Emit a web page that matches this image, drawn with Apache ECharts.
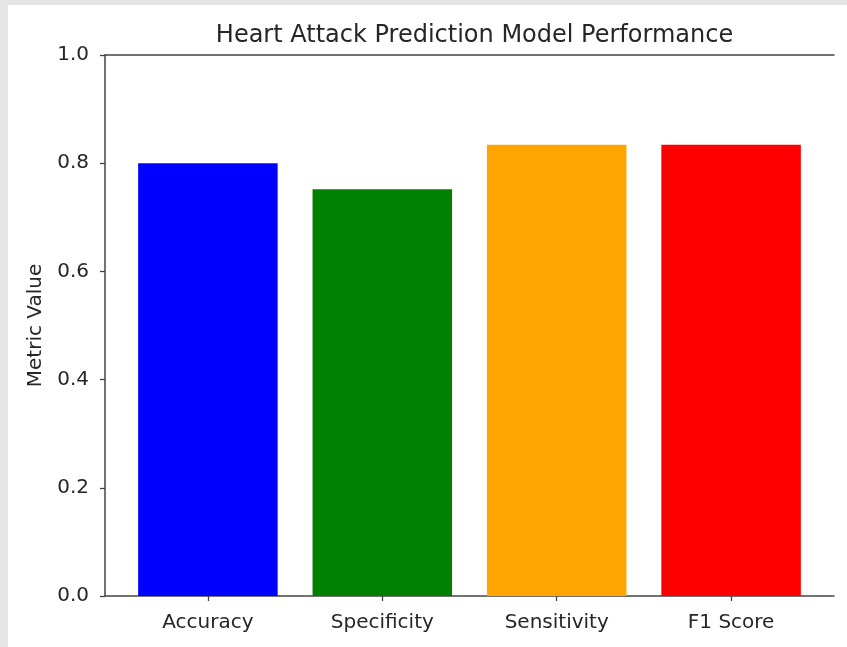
<!DOCTYPE html>
<html>
<head>
<meta charset="utf-8">
<script src="https://cdn.jsdelivr.net/npm/echarts@6/dist/echarts.min.js"></script>
<style>
  html, body { margin: 0; padding: 0; background: #e5e5e5; width: 847px; height: 647px; overflow: hidden; }
  #chart { position: absolute; left: 8px; top: 5px; width: 839px; height: 642px; background: #ffffff; }
</style>
</head>
<body>
<div id="chart"></div>
<script>
const categories = ['Accuracy', 'Specificity', 'Sensitivity', 'F1 Score'];
const values = [0.800, 0.752, 0.834, 0.834];
const barColors = ['#0000ff', '#008000', '#ffa500', '#ff0000'];
const yTicks = [0, 0.2, 0.4, 0.6, 0.8, 1.0];

const font = 'DejaVu Sans, sans-serif';
const axisColor = '#444444';
const textColor = '#262626';

const chart = echarts.init(document.getElementById('chart'), null, { renderer: 'canvas' });
chart.setOption({
  animation: false,
  backgroundColor: '#ffffff',
  title: {
    text: 'Heart Attack Prediction Model Performance',
    left: 461.5,
    top: 14,
    textAlign: 'center',
    textStyle: { fontFamily: font, fontSize: 24, fontWeight: 'normal', color: textColor }
  },
  grid: [
    { left: 97, right: 13, top: 50, bottom: 51 },
    { left: 112.7, right: 28.7, top: 50, bottom: 51 }
  ],
  xAxis: [
    { gridIndex: 0, type: 'value', min: 0, max: 1, position: 'bottom',
      axisLine: { show: true, lineStyle: { color: axisColor, width: 1.5 } },
      axisTick: { show: false }, axisLabel: { show: false }, splitLine: { show: false } },
    { gridIndex: 0, type: 'value', min: 0, max: 1, position: 'top',
      axisLine: { show: true, lineStyle: { color: axisColor, width: 1.5 } },
      axisTick: { show: false }, axisLabel: { show: false }, splitLine: { show: false } },
    { gridIndex: 1, type: 'category', data: categories, position: 'bottom',
      axisLine: { show: false },
      axisTick: { show: true, alignWithLabel: true, length: 5, lineStyle: { color: axisColor, width: 1.3 } },
      axisLabel: { fontFamily: font, fontSize: 20, color: textColor, margin: 17 },
      splitLine: { show: false } }
  ],
  yAxis: [
    { gridIndex: 0, type: 'value', min: 0, max: 1, interval: 0.2,
      name: 'Metric Value', nameLocation: 'middle', nameRotate: 90, nameGap: 59,
      nameTextStyle: { fontFamily: font, fontSize: 20, color: textColor },
      axisLine: { show: true, lineStyle: { color: axisColor, width: 1.5 } },
      axisTick: { show: true, length: 5, lineStyle: { color: axisColor, width: 1.3 } },
      axisLabel: { fontFamily: font, fontSize: 20, color: textColor, margin: 16,
        formatter: v => v.toFixed(1) },
      splitLine: { show: false } },
    { gridIndex: 1, type: 'value', min: 0, max: 1, show: false }
  ],
  series: [{
    type: 'bar',
    xAxisIndex: 2,
    yAxisIndex: 1,
    barWidth: '80%',
    data: values.map((v, i) => ({ value: v, itemStyle: { color: barColors[i] } }))
  }]
});
</script>
</body>
</html>
